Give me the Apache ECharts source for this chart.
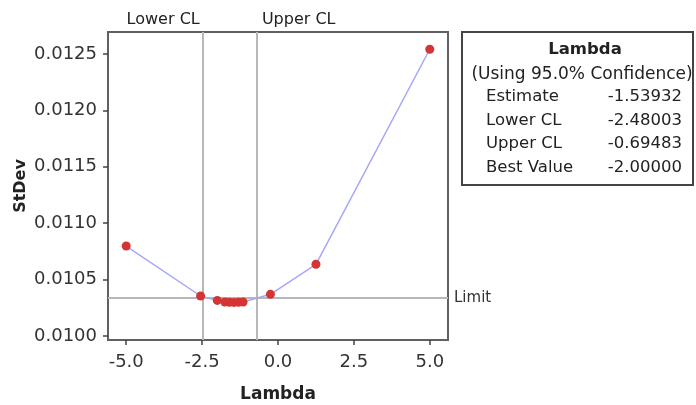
<!DOCTYPE html>
<html>
<head>
<meta charset="utf-8">
<script src="https://cdn.jsdelivr.net/npm/echarts@6/dist/echarts.min.js"></script>
<style>
html, body { margin: 0; background: #fff; }
#chart { width: 696px; height: 405px; }
</style>
</head>
<body>
<div id="chart"></div>
<script>
// box-cox lambda search
const lambdas = [-5, -2.55, -2, -1.75, -1.6, -1.45, -1.3, -1.15, -0.25, 1.25, 5];
const stdevs = [0.010798, 0.010355, 0.010316, 0.010302, 0.010299, 0.010298, 0.010299, 0.010302, 0.010370, 0.010636, 0.012542];
const xTicks = [-5, -2.5, 0, 2.5, 5];
const yTicks = [0.0100, 0.0105, 0.0110, 0.0115, 0.0120, 0.0125];
const lowerCL = -2.48003;
const upperCL = -0.69483;
const limit = 0.010337;
const statLabels = ['Estimate', 'Lower CL', 'Upper CL', 'Best Value'];
const statValues = ['-1.53932', '-2.48003', '-0.69483', '-2.00000'];

const FONT = 'DejaVu Sans';
const chart = echarts.init(document.getElementById('chart'));

let points = [];
for (let i = 0; i < lambdas.length; i++) {
    points.push([lambdas[i], stdevs[i]]);
}

// legend box on the right
let boxItems = [
    { type: 'rect', shape: { x: 462, y: 32, width: 231, height: 153 },
      style: { fill: '#fff', stroke: '#444', lineWidth: 2 } },
    { type: 'text', x: 585, y: 50,
      style: { text: 'Lambda', font: 'bold 16.5px ' + FONT, fill: '#222', align: 'center', verticalAlign: 'middle' } },
    { type: 'text', x: 582, y: 75,
      style: { text: '(Using 95.0% Confidence)', font: '17px ' + FONT, fill: '#222', align: 'center', verticalAlign: 'middle' } }
];
for (let i = 0; i < statLabels.length; i++) {
    let y = 97 + i * 23.5;
    boxItems.push({ type: 'text', x: 486, y: y,
        style: { text: statLabels[i], font: '16.5px ' + FONT, fill: '#222', align: 'left', verticalAlign: 'middle' } });
    boxItems.push({ type: 'text', x: 682, y: y,
        style: { text: statValues[i], font: '16.5px ' + FONT, fill: '#222', align: 'right', verticalAlign: 'middle' } });
}

const option = {
    animation: false,
    textStyle: { fontFamily: FONT },
    grid: {
        left: 108, right: 248, top: 32, bottom: 65,
        outerBoundsMode: 'none',
        show: true, borderColor: '#606060', borderWidth: 2, backgroundColor: '#fff'
    },
    xAxis: {
        type: 'value', min: -5.6, max: 5.6,
        name: 'Lambda', nameLocation: 'middle', nameGap: 46,
        nameTextStyle: { fontSize: 17, fontWeight: 'bold', color: '#222', fontFamily: FONT },
        axisLine: { show: true, onZero: false, lineStyle: { color: '#606060', width: 2 } },
        axisTick: { show: true, customValues: xTicks, length: 5, lineStyle: { color: '#444', width: 1.5 } },
        axisLabel: { customValues: xTicks, formatter: v => v.toFixed(1), fontSize: 18, color: '#333', margin: 13, fontFamily: FONT },
        splitLine: { show: false }
    },
    yAxis: {
        type: 'value', min: 0.009965, max: 0.012695,
        name: 'StDev', nameLocation: 'middle', nameGap: 79,
        nameTextStyle: { fontSize: 16, fontWeight: 'bold', color: '#222', fontFamily: FONT },
        axisLine: { show: true, onZero: false, lineStyle: { color: '#606060', width: 2 } },
        axisTick: { show: true, customValues: yTicks, length: 5, lineStyle: { color: '#444', width: 1.5 } },
        axisLabel: { customValues: yTicks, formatter: v => v.toFixed(4), fontSize: 18, color: '#333', margin: 11, fontFamily: FONT },
        splitLine: { show: false }
    },
    series: [{
        type: 'line',
        data: points,
        symbol: 'circle',
        symbolSize: 9,
        lineStyle: { color: '#a4a8f6', width: 1.5 },
        itemStyle: { color: '#d33535' },
        z: 5,
        markLine: {
            silent: true,
            symbol: 'none',
            animation: false,
            precision: 8,
            lineStyle: { color: '#b8b8b8', width: 2, type: 'solid' },
            data: [
                { xAxis: lowerCL, label: { show: false } },
                { xAxis: upperCL, label: { show: false } },
                { yAxis: limit, label: { show: true, position: 'end', formatter: 'Limit', fontSize: 15, color: '#333', distance: 6 } }
            ]
        }
    }],
    graphic: boxItems
};

chart.setOption(option);

// CL captions above the frame, placed from the axis scale
let lowX = chart.convertToPixel({ xAxisIndex: 0 }, lowerCL);
let upX = chart.convertToPixel({ xAxisIndex: 0 }, upperCL);
chart.setOption({
    graphic: boxItems.concat([
        { type: 'text', x: lowX - 3, y: 20,
          style: { text: 'Lower CL', font: '16px ' + FONT, fill: '#222', align: 'right', verticalAlign: 'middle' } },
        { type: 'text', x: upX + 5, y: 20,
          style: { text: 'Upper CL', font: '16px ' + FONT, fill: '#222', align: 'left', verticalAlign: 'middle' } }
    ])
});
</script>
</body>
</html>
